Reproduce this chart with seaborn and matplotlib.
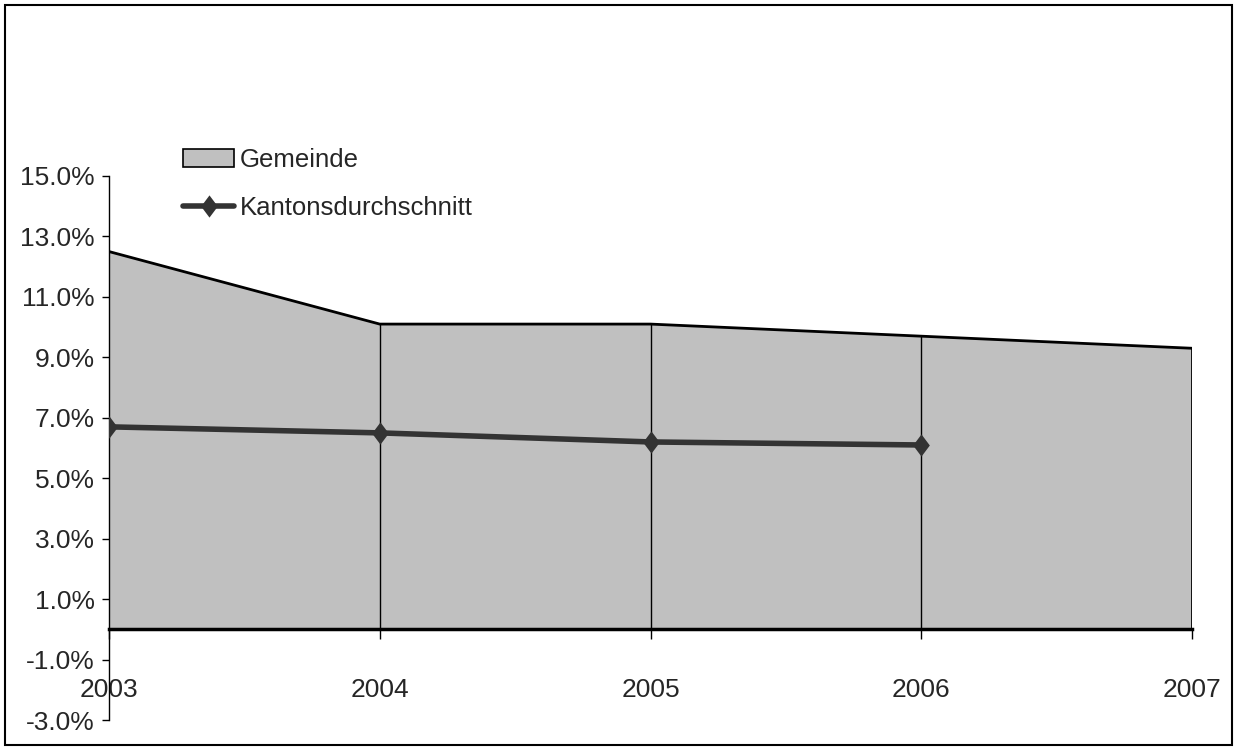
import matplotlib
matplotlib.use("Agg")
import matplotlib.pyplot as plt
import matplotlib.patches as mpatches
from matplotlib.lines import Line2D
from matplotlib.ticker import FuncFormatter
import numpy as np
import pandas as pd
import seaborn as sns

years = ["2003", "2004", "2005", "2006", "2007"]
gemeinde = [12.5, 10.1, 10.1, 9.7, 9.3]
kanton_years = ["2003", "2004", "2005", "2006"]
kanton = [6.7, 6.5, 6.2, 6.1]
y_ticks = [-3, -1, 1, 3, 5, 7, 9, 11, 13, 15]

sns.set_style("white")
plt.rcParams["font.family"] = ["Liberation Sans", "DejaVu Sans"]

W, H = 1238, 750
fig = plt.figure(figsize=(W / 100, H / 100), dpi=100)
ax = fig.add_axes([109 / W, 1 - 720 / H, (1192 - 109) / W, (720 - 176) / H])

x = np.arange(len(years))
xk = np.arange(len(kanton_years))

# tall diamond marker (like Excel)
diamond = [(0, 1), (0.75, 0), (0, -1), (-0.75, 0), (0, 1)]

# area (Gemeinde)
ax.fill_between(x, 0, gemeinde, facecolor="#C0C0C0", edgecolor="none", zorder=1)
ax.plot(x, gemeinde, color="black", lw=2.0, zorder=2)
ax.vlines(x[1:-1], 0, gemeinde[1:-1], color="black", lw=1.0, zorder=2)
ax.vlines(x[-1:], 0, gemeinde[-1:], color="black", lw=2.0, zorder=2)

# line (Kantonsdurchschnitt)
df = pd.DataFrame({"x": xk, "v": kanton})
sns.lineplot(data=df, x="x", y="v", ax=ax, color="#333333", lw=4,
             marker=diamond, markersize=16, markeredgewidth=0, zorder=4)

ax.set_xlim(0, len(years) - 1)
ax.set_ylim(-3, 15)
ax.set_yticks(y_ticks)
ax.yaxis.set_major_formatter(FuncFormatter(lambda v, p: f"{v:.1f}%"))
ax.set_xticks(x)
ax.set_xticklabels(years)
ax.set_xlabel("")
ax.set_ylabel("")

for s in ["top", "right"]:
    ax.spines[s].set_visible(False)
ax.spines["bottom"].set_position(("data", 0))
ax.spines["bottom"].set_linewidth(2.5)
ax.spines["bottom"].set_zorder(3)
ax.spines["left"].set_linewidth(1.0)
ax.spines["left"].set_color("black")
ax.spines["bottom"].set_color("black")

ax.tick_params(axis="y", direction="out", length=5, width=1, color="black",
               labelsize=19, pad=5, left=True)
ax.tick_params(axis="x", direction="out", length=7, width=1, color="black",
               labelsize=19, pad=28, bottom=True)

# legend
handles = [
    mpatches.Patch(facecolor="#C0C0C0", edgecolor="black", lw=1.2, label="Gemeinde"),
    Line2D([0], [0], color="#333333", lw=4, marker=diamond, markersize=16,
           markeredgewidth=0, label="Kantonsdurchschnitt"),
]
leg = fig.legend(handles=handles, loc="upper left", bbox_to_anchor=(183 / W, 1 - 148 / H),
                 frameon=False, fontsize=18.5, handlelength=2.0, handleheight=0.75,
                 handletextpad=0.2, labelspacing=0.95, borderaxespad=0, borderpad=0)

# outer chart border
fig.patches.append(mpatches.Rectangle((5 / W, 5 / H), (1232 - 5) / W, (745 - 5) / H,
                                      transform=fig.transFigure, fill=False,
                                      edgecolor="black", lw=1.5))

fig.savefig("out.png", dpi=100, facecolor="white")
